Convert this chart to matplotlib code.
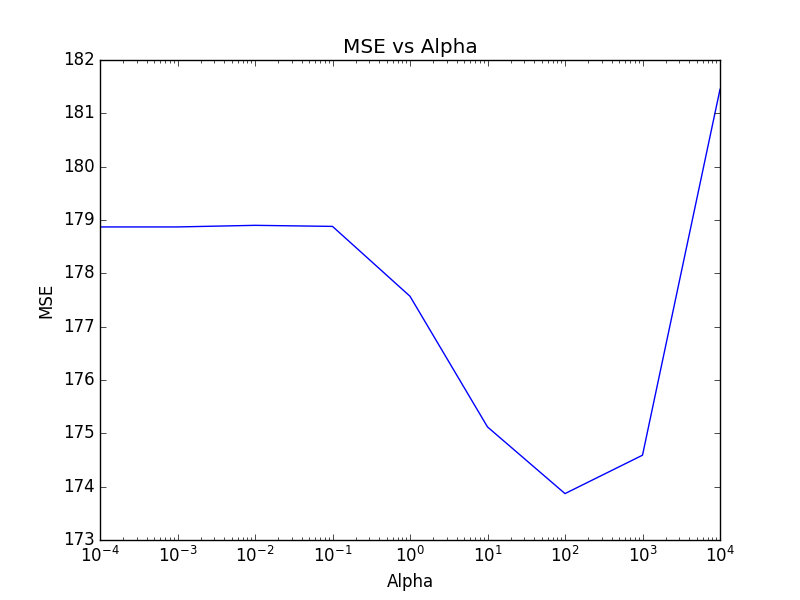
import matplotlib
matplotlib.use('Agg')
import matplotlib.pyplot as plt

plt.style.use('classic')

alphas = [1e-4, 1e-3, 1e-2, 1e-1, 1e0, 1e1, 1e2, 1e3, 1e4]
mse = [178.87, 178.87, 178.90, 178.88, 177.57, 175.12, 173.87, 174.59, 181.45]

fig = plt.figure(figsize=(8, 6), dpi=100)
ax = fig.add_subplot(111)
ax.plot(alphas, mse, color='b')
ax.set_xscale('log')
ax.set_xlim(1e-4, 1e4)
ax.set_ylim(173, 182)
ax.set_title('MSE vs Alpha')
ax.set_xlabel('Alpha')
ax.set_ylabel('MSE')
fig.savefig('out.png', dpi=100, facecolor='white')
